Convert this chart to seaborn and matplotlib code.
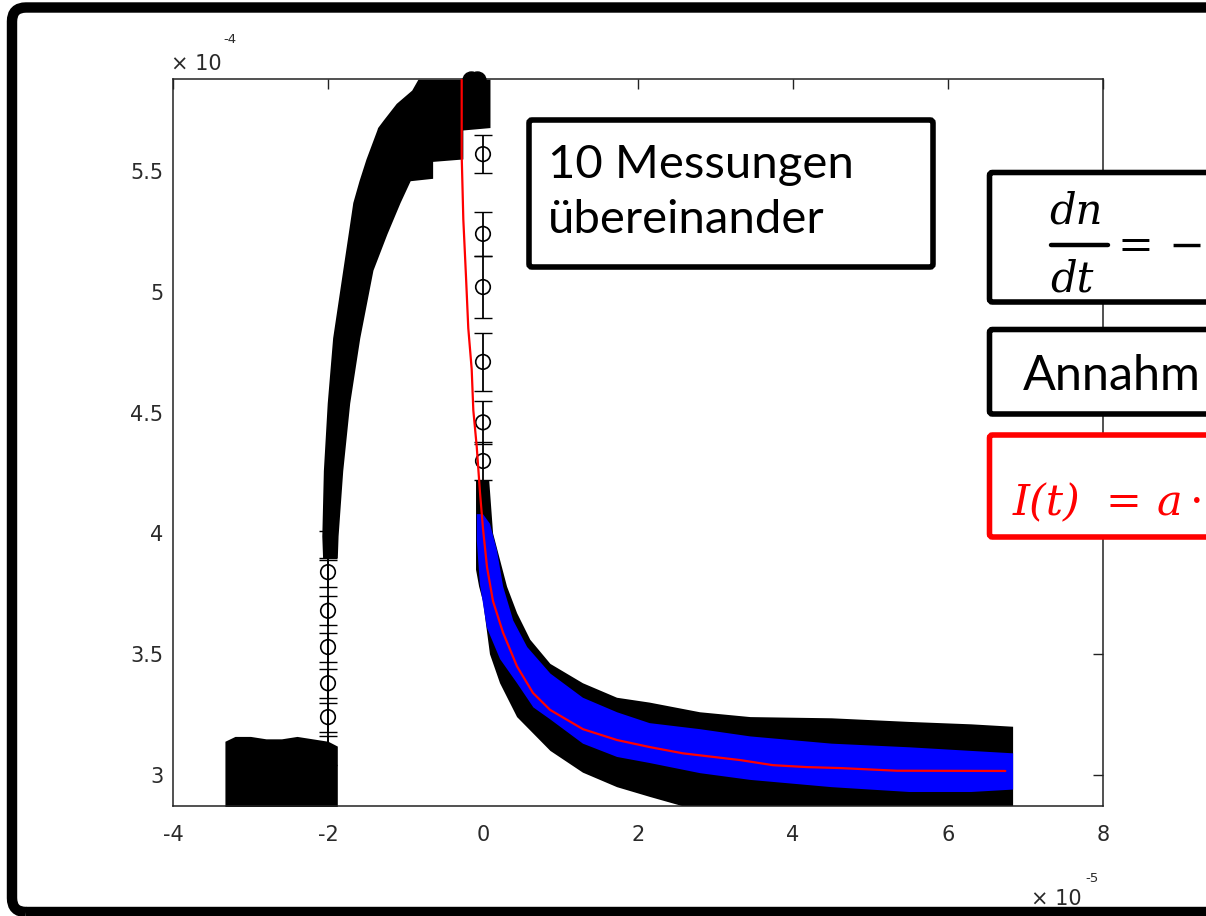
import matplotlib
matplotlib.use("Agg")
import matplotlib.pyplot as plt
import seaborn as sns
import numpy as np
from matplotlib.patches import FancyBboxPatch
from matplotlib.lines import Line2D
from matplotlib.transforms import IdentityTransform

# Time axis in units of 1e-5 s, signal in units of 1e-4

# pre-pulse baseline (upper edge of the overlaid error bars)
base_t = [-3.33, -3.20, -3.00, -2.80, -2.60, -2.40, -2.20, -2.00, -1.88]
base_hi = [3.14, 3.16, 3.16, 3.15, 3.15, 3.16, 3.15, 3.14, 3.12]
base_floor = 2.86

# rising edge (for each signal level: left and right extent of the measurements)
rise_n = [3.90, 3.99, 4.26, 4.54, 4.81, 5.09, 5.24, 5.37, 5.46, 5.47, 5.54, 5.55,
          5.67, 5.68, 5.71, 5.78, 5.835, 5.88]
rise_left = [-2.07, -2.08, -2.06, -2.01, -1.94, -1.81, -1.74, -1.68, -1.60, -1.59,
             -1.52, -1.51, -1.37, -1.36, -1.29, -1.12, -0.92, -0.84]
rise_right = [-1.88, -1.87, -1.81, -1.72, -1.59, -1.42, -1.24, -1.07, -0.94, -0.65,
              -0.65, -0.26, -0.26, 0.09, 0.09, 0.09, 0.09, 0.09]

# single points on the steep rise
step_t = [-2.00, -2.00, -2.00, -2.00, -2.00, -2.00, -2.00]
step_n = [3.10, 3.24, 3.38, 3.53, 3.68, 3.84, 3.95]
step_err = [0.06, 0.06, 0.06, 0.06, 0.06, 0.06, 0.06]

# single points on the steep fall
fall_t = [0.0, 0.0, 0.0, 0.0, 0.0, 0.0]
fall_n = [5.57, 5.24, 5.02, 4.71, 4.46, 4.30]
fall_err = [0.08, 0.09, 0.13, 0.12, 0.09, 0.08]

# decay: all ten measurements (black envelope)
black_hi_t = [-0.09, 0.08, 0.13, 0.22, 0.31, 0.44, 0.61, 0.87, 1.29, 1.73, 2.15,
              2.80, 3.45, 4.50, 5.50, 6.30, 6.84]
black_hi_n = [4.22, 4.22, 4.00, 3.89, 3.78, 3.67, 3.56, 3.46, 3.38, 3.32, 3.30,
              3.26, 3.24, 3.235, 3.22, 3.21, 3.20]
black_lo_t = [-0.09, -0.05, 0.00, 0.09, 0.22, 0.44, 0.87, 1.29, 1.73, 2.15, 2.70, 6.84]
black_lo_n = [3.85, 3.78, 3.72, 3.50, 3.38, 3.24, 3.10, 3.01, 2.95, 2.91, 2.86, 2.86]

# decay: single measurement (blue envelope)
blue_hi_t = [-0.08, 0.00, 0.09, 0.18, 0.26, 0.39, 0.57, 0.87, 1.29, 1.73, 2.15,
             2.80, 3.45, 4.50, 5.50, 6.30, 6.84]
blue_hi_n = [4.08, 4.08, 4.04, 3.93, 3.78, 3.64, 3.53, 3.42, 3.32, 3.26, 3.215,
             3.19, 3.16, 3.13, 3.115, 3.10, 3.09]
blue_lo_t = [-0.08, -0.04, 0.05, 0.22, 0.44, 0.65, 0.87, 1.29, 1.73, 2.15, 2.80,
             3.45, 4.50, 5.50, 6.30, 6.84]
blue_lo_n = [3.97, 3.79, 3.61, 3.48, 3.38, 3.28, 3.23, 3.13, 3.075, 3.05, 3.008,
             2.98, 2.95, 2.93, 2.93, 2.94]

# fit curve
fit_t = [-0.275, -0.275, -0.254, -0.219, -0.190, -0.146, -0.125, -0.081, -0.039,
         0.000, 0.052, 0.129, 0.258, 0.439, 0.645, 0.865, 1.29, 1.73, 2.15, 2.58,
         3.32, 3.74, 4.18, 4.61, 5.34, 6.74]
fit_n = [5.877, 5.566, 5.30, 5.06, 4.85, 4.68, 4.51, 4.36, 4.17, 4.02, 3.86, 3.72,
         3.59, 3.45, 3.34, 3.27, 3.19, 3.145, 3.116, 3.09, 3.062, 3.041, 3.033,
         3.029, 3.018, 3.017]

# peak cluster poking above the frame
peak_t = [-0.16, -0.08]
peak_n = [5.878, 5.878]

x_ticks = [-4, -2, 0, 2, 4, 6, 8]
x_labels = ["-4", "-2", "0", "2", "4", "6", "8"]
y_ticks = [3, 3.5, 4, 4.5, 5, 5.5]
y_labels = ["3", "3.5", "4", "4.5", "5", "5.5"]

sns.set_theme(style="white")
plt.rcParams["font.family"] = ["DejaVu Sans"]

W, H = 1206, 916
fig = plt.figure(figsize=(W / 100, H / 100), dpi=100)
fig.patch.set_facecolor("white")


def fx(px):
    return px / W


def fy(py):
    return 1 - py / H


ax = fig.add_axes([fx(173), fy(806), fx(1103) - fx(173), fy(79) - fy(806)])
ax.set_facecolor("white")
ax.set_xlim(-4, 8)
ax.set_ylim(2.872, 5.881)

# black envelopes of all measurements
ax.fill_between(base_t, base_floor, base_hi, color="black", lw=0, zorder=2)
ax.fill_betweenx(rise_n, rise_left, rise_right, color="black", lw=0, zorder=2)
ax.fill(np.r_[black_hi_t, black_lo_t[::-1]], np.r_[black_hi_n, black_lo_n[::-1]],
        color="black", lw=0, zorder=2)

# single points with error bars
ax.errorbar(step_t, step_n, yerr=step_err, fmt="-", color="black", lw=1.3,
            elinewidth=1.3, capsize=6.5, zorder=3)
sns.scatterplot(x=step_t[1:-1], y=step_n[1:-1], marker="o", s=110,
                facecolor="none", edgecolor="black", linewidth=1.2, ax=ax, zorder=4)
ax.errorbar(fall_t, fall_n, yerr=fall_err, fmt="none", ecolor="black",
            elinewidth=1.3, capsize=6.5, zorder=3)
sns.scatterplot(x=fall_t, y=fall_n, marker="o", s=110, facecolor="none",
                edgecolor="black", linewidth=1.2, ax=ax, zorder=4)
ax.scatter(peak_t, peak_n, s=150, color="black", zorder=4, clip_on=False)

# blue envelope of one measurement
ax.fill(np.r_[blue_hi_t, blue_lo_t[::-1]], np.r_[blue_hi_n, blue_lo_n[::-1]],
        color="#0000ff", lw=0, zorder=5)

# fit
sns.lineplot(x=fit_t, y=fit_n, color="#ff0000", lw=1.6, ax=ax, sort=False,
             estimator=None, zorder=6)

# axes styling
ax.set_xticks(x_ticks)
ax.set_xticklabels(x_labels)
ax.set_yticks(y_ticks)
ax.set_yticklabels(y_labels)
for s in ax.spines.values():
    s.set_visible(True)
    s.set_color("#222222")
    s.set_linewidth(1.1)
ax.tick_params(direction="in", length=7.5, width=1.0, color="#222222",
               top=True, right=True, labelsize=15, labelcolor="#2a2a2a")
ax.tick_params(axis="x", pad=14)
ax.tick_params(axis="y", pad=7)
ax.set_xlabel("")
ax.set_ylabel("")

# scale factors
fig.text(fx(171), fy(70), "× 10", fontsize=15, color="#2a2a2a", va="baseline", ha="left")
fig.text(fx(223), fy(43), "-4", fontsize=9.5, color="#2a2a2a", va="baseline", ha="left")
fig.text(fx(1031), fy(905), "× 10", fontsize=15, color="#2a2a2a", va="baseline", ha="left")
fig.text(fx(1085), fy(882), "-5", fontsize=9.5, color="#2a2a2a", va="baseline", ha="left")


def frame(x0, y0, x1, y1, color="black", lw=4.0, r=3):
    p = FancyBboxPatch((x0, H - y1), x1 - x0, y1 - y0,
                       boxstyle=f"round,pad=0,rounding_size={r}",
                       transform=IdentityTransform(), facecolor="white",
                       edgecolor=color, linewidth=lw, zorder=10)
    fig.add_artist(p)


def label(px, py, s, **kw):
    kw.setdefault("va", "baseline")
    kw.setdefault("ha", "left")
    kw.setdefault("color", "black")
    fig.text(fx(px), fy(py), s, zorder=11, **kw)


serif_it = dict(family="DejaVu Serif", style="italic")

# annotation boxes
frame(529, 120, 933, 267)
label(548, 178, "10 Messungen", family="Lato", fontsize=34)
label(548, 233, "übereinander", family="Lato", fontsize=34)

frame(989.5, 172.5, 1300, 302)
label(1049, 223, "dn", fontsize=30, **serif_it)
label(1050, 292, "dt", fontsize=30, **serif_it)
fig.add_artist(Line2D([fx(1051), fx(1108)], [fy(245), fy(245)], color="black",
                      lw=3.2, zorder=11))
label(1118, 259, "=", fontsize=31, family="DejaVu Serif")
label(1168, 259, "−", fontsize=31, family="DejaVu Serif")

frame(989.5, 329.5, 1300, 414)
label(1023, 390, "Annahm", family="Lato", fontsize=35)

frame(989.5, 435, 1300, 537, color="#ff0000")
label(1013, 515, "I(t)", fontsize=31, color="#ff0000", **serif_it)
label(1105, 515, "=", fontsize=31, color="#ff0000", family="DejaVu Serif")
label(1157, 515, "a", fontsize=31, color="#ff0000", **serif_it)
label(1190, 515, "·", fontsize=31, color="#ff0000", family="DejaVu Serif")

# outer frame of the slide
outer = FancyBboxPatch((12, H - 912), 1300, 912 - 7.5,
                       boxstyle="round,pad=0,rounding_size=14",
                       transform=IdentityTransform(), facecolor="none",
                       edgecolor="black", linewidth=7.5, zorder=20)
fig.add_artist(outer)

fig.savefig("out.png", dpi=100, facecolor="white")
